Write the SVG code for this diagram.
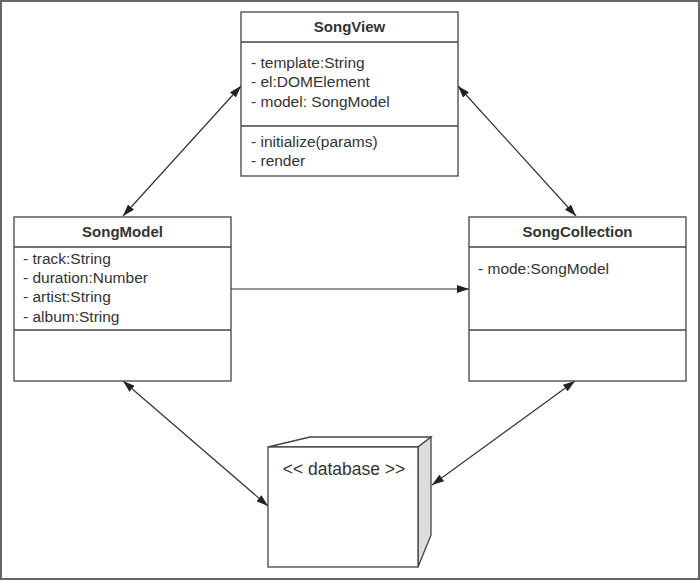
<svg xmlns="http://www.w3.org/2000/svg" width="700" height="580" viewBox="0 0 700 580">
<style>
.box{fill:#fff;stroke:#444;stroke-width:1.3}
.div{stroke:#444;stroke-width:1.3}
.t{font-family:"Liberation Sans",Arial,sans-serif;font-size:15.5px;fill:#333}
.h{font-family:"Liberation Sans",Arial,sans-serif;font-size:15px;font-weight:bold;fill:#333;text-anchor:middle}
.c{stroke:#333;stroke-width:1.2;fill:none}
</style>
<defs>
<marker id="ah" viewBox="0 0 12 8" refX="12" refY="4" markerWidth="12" markerHeight="8" markerUnits="userSpaceOnUse" orient="auto-start-reverse">
<path d="M0,0 L12,4 L0,8 Z" fill="#222"/>
</marker>
</defs>
<rect x="0" y="0" width="700" height="580" fill="#fff"/>
<rect x="1" y="1" width="698" height="578" fill="none" stroke="#666" stroke-width="2"/>
<g id="connectors">
<line class="c" x1="123" y1="216" x2="241" y2="86" marker-start="url(#ah)" marker-end="url(#ah)"/>
<line class="c" x1="458" y1="86" x2="576" y2="216" marker-start="url(#ah)" marker-end="url(#ah)"/>
<line class="c" x1="231" y1="289" x2="469" y2="289" marker-end="url(#ah)"/>
<line class="c" x1="123" y1="381" x2="268" y2="506" marker-start="url(#ah)" marker-end="url(#ah)"/>
<line class="c" x1="575" y1="381" x2="432" y2="485" marker-start="url(#ah)" marker-end="url(#ah)"/>
</g>
<g id="SongView">
<rect class="box" x="241" y="12" width="217" height="164"/>
<line class="div" x1="241" y1="42" x2="458" y2="42"/>
<line class="div" x1="241" y1="126" x2="458" y2="126"/>
<text class="h" x="349.5" y="32">SongView</text>
<text class="t" x="251" y="68">- template:String</text>
<text class="t" x="251" y="87">- el:DOMElement</text>
<text class="t" x="251" y="107">- model: SongModel</text>
<text class="t" x="251" y="147">- initialize(params)</text>
<text class="t" x="251" y="166">- render</text>
</g>
<g id="SongModel">
<rect class="box" x="14" y="217" width="217" height="164"/>
<line class="div" x1="14" y1="247" x2="231" y2="247"/>
<line class="div" x1="14" y1="330" x2="231" y2="330"/>
<text class="h" x="122.5" y="237">SongModel</text>
<text class="t" x="23" y="264">- track:String</text>
<text class="t" x="23" y="283">- duration:Number</text>
<text class="t" x="23" y="302">- artist:String</text>
<text class="t" x="23" y="322">- album:String</text>
</g>
<g id="SongCollection">
<rect class="box" x="469" y="217" width="217" height="164"/>
<line class="div" x1="469" y1="247" x2="686" y2="247"/>
<line class="div" x1="469" y1="330" x2="686" y2="330"/>
<text class="h" x="577.5" y="237">SongCollection</text>
<text class="t" x="478" y="274">- mode:SongModel</text>
</g>
<g id="database">
<polygon points="268,447 310,437 431,437 418,447" fill="#fff" stroke="#444" stroke-width="1.3"/>
<polygon points="418,447 431,437 431,535 418,567" fill="#ddd" stroke="#444" stroke-width="1.3"/>
<rect class="box" x="268" y="447" width="150" height="120"/>
<text class="t" x="344" y="475" text-anchor="middle" style="font-size:17.5px">&lt;&lt; database &gt;&gt;</text>
</g>
</svg>
